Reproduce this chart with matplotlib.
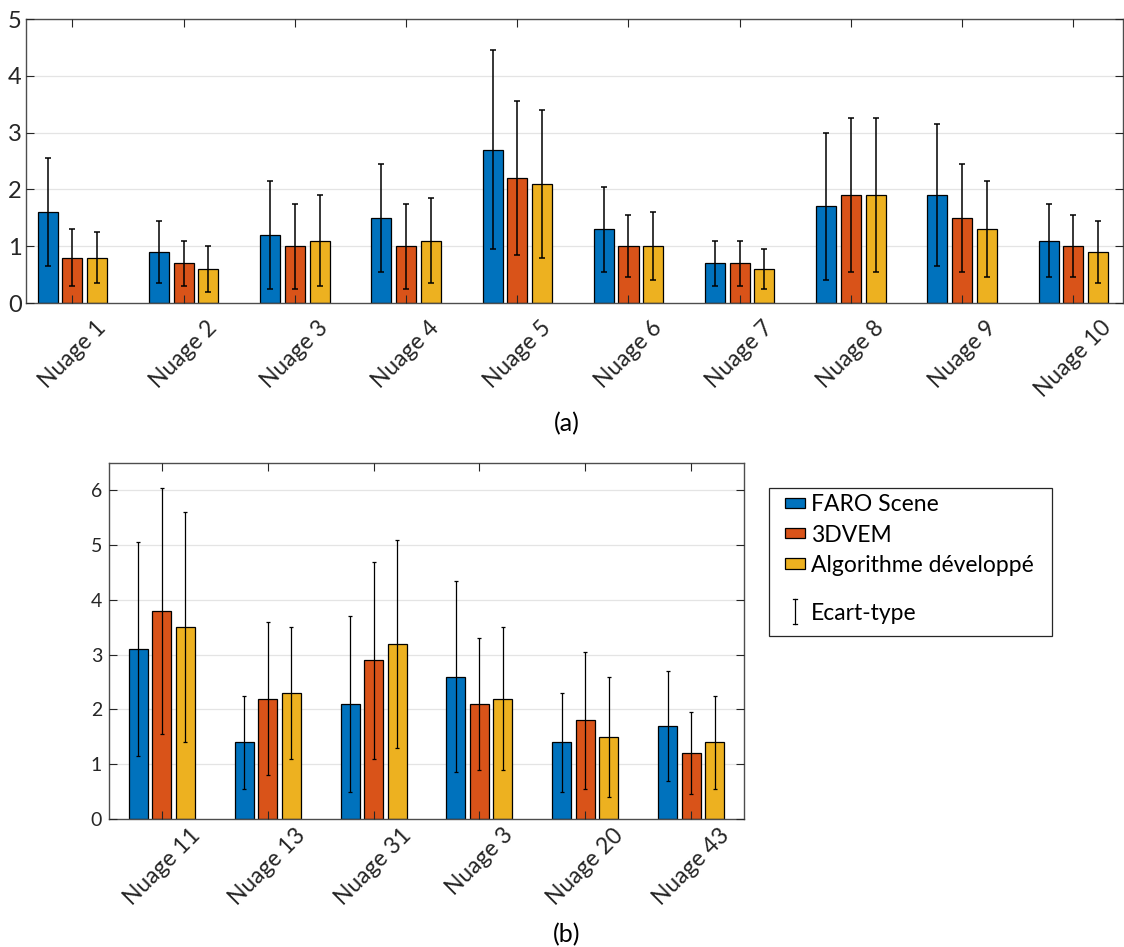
import numpy as np
import matplotlib
matplotlib.use("Agg")
from matplotlib import pyplot as plt
from matplotlib.patches import Rectangle
from matplotlib.lines import Line2D
from matplotlib.legend_handler import HandlerBase

plt.rcParams['font.family'] = ['Lato', 'DejaVu Sans']

# ---- data (a)
labels_a = ["Nuage %d" % i for i in range(1, 11)]
faro_a = [1.6, 0.9, 1.2, 1.5, 2.7, 1.3, 0.7, 1.7, 1.9, 1.1]
dvem_a = [0.8, 0.7, 1.0, 1.0, 2.2, 1.0, 0.7, 1.9, 1.5, 1.0]
algo_a = [0.8, 0.6, 1.1, 1.1, 2.1, 1.0, 0.6, 1.9, 1.3, 0.9]
faro_a_std = [0.95, 0.55, 0.95, 0.95, 1.75, 0.75, 0.4, 1.3, 1.25, 0.65]
dvem_a_std = [0.5, 0.4, 0.75, 0.75, 1.35, 0.55, 0.4, 1.35, 0.95, 0.55]
algo_a_std = [0.45, 0.4, 0.8, 0.75, 1.3, 0.6, 0.35, 1.35, 0.85, 0.55]

# ---- data (b)
labels_b = ["Nuage 11", "Nuage 13", "Nuage 31", "Nuage 3", "Nuage 20", "Nuage 43"]
faro_b = [3.1, 1.4, 2.1, 2.6, 1.4, 1.7]
dvem_b = [3.8, 2.2, 2.9, 2.1, 1.8, 1.2]
algo_b = [3.5, 2.3, 3.2, 2.2, 1.5, 1.4]
faro_b_std = [1.95, 0.85, 1.6, 1.75, 0.9, 1.0]
dvem_b_std = [2.25, 1.4, 1.8, 1.2, 1.25, 0.75]
algo_b_std = [2.1, 1.2, 1.9, 1.3, 1.1, 0.85]

series_names = ["FARO Scene", "3DVEM", "Algorithme d\u00e9velopp\u00e9"]
colors = ['#0072BD', '#D95319', '#EDB120']
AXCOL = '#262626'

W, H = 1124, 947
fig = plt.figure(figsize=(W / 100, H / 100), dpi=100)


def px_axes(x0, y0, x1, y1):
    return fig.add_axes([x0 / W, 1 - y1 / H, (x1 - x0) / W, (y1 - y0) / H])


class HandlerStd(HandlerBase):
    # vertical bar with two small caps, like the errorbar glyph
    def create_artists(self, legend, orig_handle, xdescent, ydescent, width, height, fontsize, trans):
        x = width / 2 - xdescent
        y = height / 2 - ydescent
        s = 0.55 * fontsize
        c = 1.6
        segs = [([x, x], [y - s, y + s]), ([x - c, x + c], [y - s, y - s]), ([x - c, x + c], [y + s, y + s])]
        arts = []
        for xs, ys in segs:
            ln = Line2D(xs, ys, color='black', linewidth=0.9)
            ln.set_transform(trans)
            arts.append(ln)
        return arts


def grouped(ax, labels, vals, stds, ymax, capsize, elw, tick_fs, xl_fs, xpad, ypad):
    x = np.arange(1, len(labels) + 1)
    width, off = 0.18, 0.222
    bars = []
    for k in range(3):
        pos = x + (k - 1) * off
        b = ax.bar(pos, vals[k], width, color=colors[k], edgecolor='black',
                   linewidth=0.9, zorder=1, label=series_names[k])
        bars.append(b)
        ax.errorbar(pos, vals[k], yerr=stds[k], fmt='none', ecolor='black',
                    elinewidth=elw, capsize=capsize, capthick=elw, zorder=3)
    ax.set_ylim(0, ymax)
    ax.set_xticks(x)
    ax.set_xticklabels(labels, rotation=45, ha='center', va='top', fontsize=xl_fs,
                       color=AXCOL)
    yt = np.arange(0, int(ymax) + 1)
    ax.set_yticks(yt)
    ax.set_yticklabels([str(v) for v in yt], fontsize=tick_fs, color=AXCOL)
    for v in yt[1:]:
        ax.axhline(v, color='#e4e4e4', linewidth=0.9, zorder=0)
    ax.set_axisbelow(False)
    ax.tick_params(direction='in', top=True, right=True, length=6, width=0.8,
                   color=AXCOL)
    ax.tick_params(axis='x', pad=xpad)
    ax.tick_params(axis='y', pad=ypad)
    for s in ax.spines.values():
        s.set_color('#4d4d4d')
        s.set_linewidth(1.0)
    return bars


ax1 = px_axes(26, 19, 1123, 303)
grouped(ax1, labels_a, [faro_a, dvem_a, algo_a], [faro_a_std, dvem_a_std, algo_a_std],
        5, 2.2, 1.1, 17, 16.5, 10, 3)
ax1.set_xlim(1 - 0.417, 10 + 0.446)

ax2 = px_axes(109, 463, 744, 819)
bars = grouped(ax2, labels_b, [faro_b, dvem_b, algo_b], [faro_b_std, dvem_b_std, algo_b_std],
               6.5, 1.5, 0.9, 14, 16.5, 4, 5)
ax2.set_xlim(0.5, 6.5)

fig.text(567 / W, 1 - 424 / H, "(a)", ha='center', va='center', fontsize=18, color='black')
fig.text(567 / W, 1 - 935 / H, "(b)", ha='center', va='center', fontsize=18, color='black')

# legend: frame + two stacked legends (extra gap before "Ecart-type")
fig.patches.append(Rectangle((769 / W, 1 - 636 / H), 283 / W, 148 / H, transform=fig.transFigure,
                             facecolor='white', edgecolor='#262626', linewidth=0.9, zorder=5))
legA = fig.legend(bars, series_names, loc='center left', bbox_to_anchor=(785 / W, 1 - 535 / H),
                  frameon=False, borderpad=0, borderaxespad=0, fontsize=16.5,
                  handlelength=0.87, handleheight=0.31, handletextpad=0.26, labelspacing=0.4)
std_handle = Line2D([], [], color='black')
legB = fig.legend([std_handle], ["Ecart-type"], loc='center left',
                  bbox_to_anchor=(785 / W, 1 - 613 / H),
                  frameon=False, borderpad=0, borderaxespad=0, fontsize=16.5,
                  handlelength=0.87, handletextpad=0.26,
                  handler_map={std_handle: HandlerStd()})
for lg in (legA, legB):
    lg.set_zorder(6)
    for t in lg.get_texts():
        t.set_color('black')

fig.savefig("out.png", dpi=100)
